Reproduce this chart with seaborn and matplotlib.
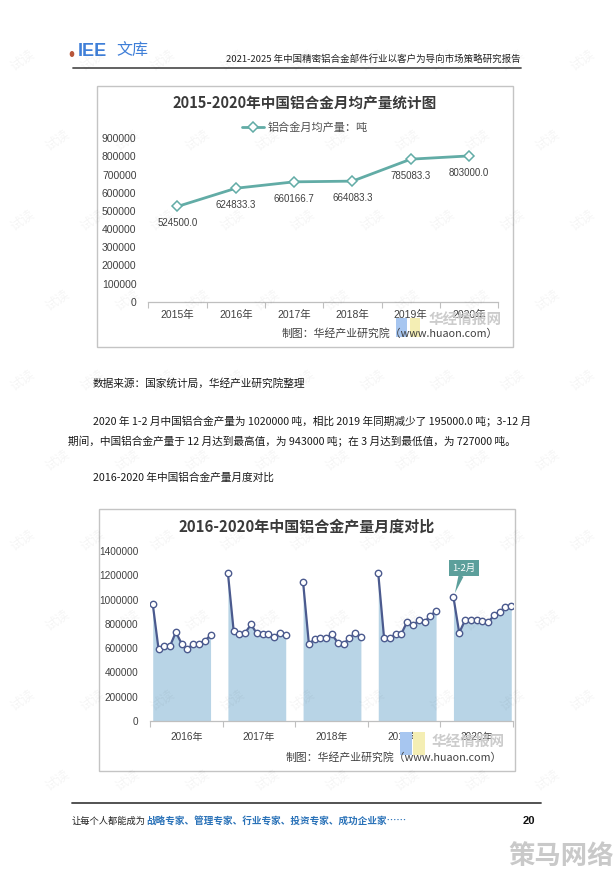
import numpy as np
import pandas as pd
import matplotlib
matplotlib.use("Agg")
import matplotlib.pyplot as plt
import seaborn as sns
from matplotlib.patches import Rectangle, Circle

# ---------------- data ----------------
years1 = ["2015年", "2016年", "2017年", "2018年", "2019年", "2020年"]
avg_output = [524500.0, 624833.3, 660166.7, 664083.3, 785083.3, 803000.0]
y1_ticks = [0, 100000, 200000, 300000, 400000, 500000, 600000, 700000, 800000, 900000]

years2 = ["2016年", "2017年", "2018年", "2019年", "2020年"]
months = ["1-2月", "3月", "4月", "5月", "6月", "7月", "8月", "9月", "10月", "11月", "12月"]
out_2016 = [965000, 595000, 618000, 618000, 732000, 637000, 592000, 637000, 637000, 660000, 706000]
out_2017 = [1219000, 740000, 713000, 727000, 795000, 721000, 713000, 713000, 691000, 727000, 707000]
out_2018 = [1145000, 637000, 672000, 680000, 686000, 713000, 645000, 637000, 680000, 727000, 691000]
out_2019 = [1215000, 686000, 686000, 713000, 719000, 817000, 787000, 828000, 817000, 863000, 910000]
out_2020 = [1020000, 727000, 828000, 828000, 828000, 822000, 814000, 869000, 899000, 938000, 943000]
y2_ticks = [0, 200000, 400000, 600000, 800000, 1000000, 1200000, 1400000]

# ---------------- setup ----------------
sns.set_theme(style="white")
plt.rcParams["font.family"] = ["Liberation Sans", "Noto Sans CJK SC", "DejaVu Sans"]
CJK = ["Noto Sans CJK SC", "DejaVu Sans"]

W, H = 616, 874
fig = plt.figure(figsize=(W / 100, H / 100), dpi=100)
fig.patch.set_facecolor("white")


def ftext(x, y, s, **kw):
    return fig.text(x / W, 1 - y / H, s, **kw)


def frect(x0, y0, x1, y1, **kw):
    r = Rectangle((x0 / W, 1 - y1 / H), (x1 - x0) / W, (y1 - y0) / H,
                  transform=fig.transFigure, **kw)
    fig.patches.append(r)
    return r


def fax(x0, y0, x1, y1):
    return fig.add_axes([x0 / W, 1 - y1 / H, (x1 - x0) / W, (y1 - y0) / H])


# ---------------- page header ----------------
fig.patches.append(Circle((72 / W, 1 - 54 / H), 1.6 / W, transform=fig.transFigure,
                          color="#b8563a"))
ftext(78, 52, "IEE", fontsize=13, color="#3f7fd8", fontweight="bold",
      va="center", ha="left", family=["Liberation Sans"])
ftext(116, 51, "文库", fontsize=11.5, color="#3f7fd8", va="center", ha="left", family=CJK)
ftext(521, 59, "2021-2025 年中国精密铝合金部件行业以客户为导向市场策略研究报告",
      fontsize=6.8, color="#222222", va="center", ha="right", family=CJK)
fig.add_artist(plt.Line2D([73 / W, 521 / W], [1 - 68 / H, 1 - 68 / H],
                          transform=fig.transFigure, color="#555555", lw=1.3))

# ---------------- chart 1 ----------------
frect(97, 86, 513, 347, fill=False, ec="#c4c4c4", lw=1.0)
ftext(305, 104, "2015-2020年中国铝合金月均产量统计图", fontsize=10.5,
      fontweight="bold", color="#3a3a3a", ha="center", va="center", family=CJK)

ax1 = fax(148.3, 138.3, 498.3, 301.7)
teal = "#62aca6"
sns.lineplot(x=years1, y=avg_output, ax=ax1, sort=False, color=teal, lw=2.0,
             marker="D", markersize=5.5, markerfacecolor="white",
             markeredgecolor=teal, markeredgewidth=1.1, label="铝合金月均产量：吨")
ax1.set_xlim(-0.5, len(years1) - 0.5)
ax1.set_ylim(0, 900000)
ax1.set_yticks(y1_ticks)
ax1.set_yticklabels([str(v) for v in y1_ticks])
ax1.set_xticks(range(len(years1)))
ax1.set_xticklabels(years1)
ax1.set_xticks(np.arange(-0.5, len(years1)), minor=True)
ax1.tick_params(axis="x", which="major", length=0, pad=6, labelsize=7.5, colors="#404040")
ax1.tick_params(axis="x", which="minor", length=4, width=0.8, color="#bfbfbf", bottom=True)
ax1.tick_params(axis="y", length=0, pad=8.5, labelsize=7.5, colors="#404040")
for s in ["left", "top", "right"]:
    ax1.spines[s].set_visible(False)
ax1.spines["bottom"].set_color("#bfbfbf")
ax1.spines["bottom"].set_linewidth(0.9)
ax1.set_xlabel("")
ax1.set_ylabel("")
ax1.patch.set_alpha(0)
for i, v in enumerate(avg_output):
    ax1.annotate(f"{v:.1f}", (i, v), xytext=(0, -12), textcoords="offset points",
                 ha="center", va="center", fontsize=7, color="#404040")
leg = ax1.legend(loc="center", bbox_to_anchor=(305 / W, 1 - 128 / H),
                 bbox_transform=fig.transFigure, frameon=False, fontsize=8,
                 handlelength=2.0, handletextpad=0.3, borderaxespad=0)
for t in leg.get_texts():
    t.set_color("#505050")
    t.set_family(CJK)

# watermark in chart 1
frect(396, 318, 406.5, 337, color="#a7c6f0", lw=0)
frect(410, 318, 420, 337, color="#f4eeb4", lw=0)
ftext(465, 319, "华经情报网", fontsize=10.5, color="#cccccc", ha="center", va="center",
      family=CJK, fontweight="bold")
ftext(498, 333, "制图：华经产业研究院（www.huaon.com）", fontsize=7.8, color="#404040",
      ha="right", va="center", family=CJK)

# ---------------- body text ----------------
body_kw = dict(fontsize=7.7, color="#1a1a1a", va="center", ha="left", family=CJK)
ftext(93, 383, "数据来源：国家统计局，华经产业研究院整理", **body_kw)
ftext(93, 421, "2020 年 1-2 月中国铝合金产量为 1020000 吨，相比 2019 年同期减少了 195000.0 吨；3-12 月",
      **body_kw)
ftext(68, 441, "期间，中国铝合金产量于 12 月达到最高值，为 943000 吨；在 3 月达到最低值，为 727000 吨。",
      **body_kw)
ftext(93, 478, "2016-2020 年中国铝合金产量月度对比", **body_kw)

# ---------------- chart 2 ----------------
frect(99, 509, 515, 771, fill=False, ec="#c4c4c4", lw=1.0)
ftext(307, 527, "2016-2020年中国铝合金产量月度对比", fontsize=10.8,
      fontweight="bold", color="#3a3a3a", ha="center", va="center", family=CJK)

ax2 = fax(150, 551, 513, 721)
area_c = "#b8d4e6"
line_c = "#4b5a8e"
series2 = [out_2016, out_2017, out_2018, out_2019, out_2020]
step = len(months) + 2
rows = []
for g, (yr, vals) in enumerate(zip(years2, series2)):
    for m, (mn, v) in enumerate(zip(months, vals)):
        rows.append({"year": yr, "month": mn, "pos": g * step + m, "value": v})
df2 = pd.DataFrame(rows)
for yr in years2:
    sub = df2[df2["year"] == yr]
    ax2.fill_between(sub["pos"], sub["value"], color=area_c, lw=0, zorder=1)
    sns.lineplot(data=sub, x="pos", y="value", ax=ax2, color=line_c, lw=1.6,
                 marker="o", markersize=4.6, markerfacecolor="white",
                 markeredgecolor=line_c, markeredgewidth=1.0, zorder=3)
x_lo, x_hi = -0.47, df2["pos"].max() + 0.3
ax2.set_xlim(x_lo, x_hi)
ax2.set_ylim(0, 1400000)
ax2.set_yticks(y2_ticks)
ax2.set_yticklabels([str(v) for v in y2_ticks])
bounds = np.linspace(x_lo, x_hi, len(years2) + 1)
centers = (bounds[:-1] + bounds[1:]) / 2
ax2.set_xticks(centers)
ax2.set_xticklabels(years2)
ax2.set_xticks(bounds, minor=True)
ax2.tick_params(axis="x", which="major", length=0, pad=8, labelsize=7.2, colors="#404040")
ax2.tick_params(axis="x", which="minor", length=4, width=0.8, color="#bfbfbf", bottom=True)
ax2.tick_params(axis="y", length=0, pad=8.5, labelsize=7.2, colors="#404040")
for s in ["left", "top", "right"]:
    ax2.spines[s].set_visible(False)
ax2.spines["bottom"].set_color("#bfbfbf")
ax2.spines["bottom"].set_linewidth(0.9)
ax2.set_xlabel("")
ax2.set_ylabel("")
ax2.patch.set_alpha(0)

# callout on 2020 1-2月
first20 = df2[df2["year"] == "2020年"].iloc[0]
callout_c = "#5c9f9b"
ax2.annotate("1-2月", xy=(first20["pos"], first20["value"]), xytext=(7.5, 21),
             textcoords="offset points", ha="center", va="center", fontsize=6.8,
             color="white", family=CJK,
             bbox=dict(boxstyle="square,pad=0.35", fc=callout_c, ec="none"),
             arrowprops=dict(arrowstyle="wedge,tail_width=0.55,shrink_factor=0.5",
                             fc=callout_c, ec="none", shrinkA=0, shrinkB=3),
             zorder=5)

# watermark in chart 2
frect(400, 732, 411.5, 755, color="#a7c6f0", lw=0)
frect(413, 732, 425, 755, color="#f4eeb4", lw=0)
ftext(468, 741, "华经情报网", fontsize=10.5, color="#cccccc", ha="center", va="center",
      family=CJK, fontweight="bold")
ftext(502, 757, "制图：华经产业研究院（www.huaon.com）", fontsize=7.8, color="#404040",
      ha="right", va="center", family=CJK)

# ---------------- footer ----------------
fig.add_artist(plt.Line2D([72 / W, 541 / W], [1 - 803 / H, 1 - 803 / H],
                          transform=fig.transFigure, color="#444444", lw=1.3))
ftext(72, 821, "让每个人都能成为", fontsize=6.7, color="#222222",
      va="center", ha="left", family=CJK)
ftext(146, 821, "战略专家、管理专家、行业专家、投资专家、成功企业家……", fontsize=6.9,
      color="#2a72b8", va="center", ha="left", family=CJK, fontweight="bold")
ftext(529, 821, "20", fontsize=8, color="#111111", va="center", ha="center",
      fontweight="bold", family=["Liberation Sans"])
ftext(561, 856, "策马网络", fontsize=19, color="#c9c9c9", va="center", ha="center",
      fontweight="bold", family=CJK)

# faint page watermarks
for r, yy in enumerate(range(60, 860, 80)):
    off = 0 if r % 2 == 0 else 35
    for xx in range(22 + off, 600, 70):
        ftext(xx, yy, "试读", fontsize=9.5, color="#000000", alpha=0.045,
              rotation=35, ha="center", va="center", family=CJK, zorder=10)

fig.savefig("out.png", dpi=100, facecolor="white")
